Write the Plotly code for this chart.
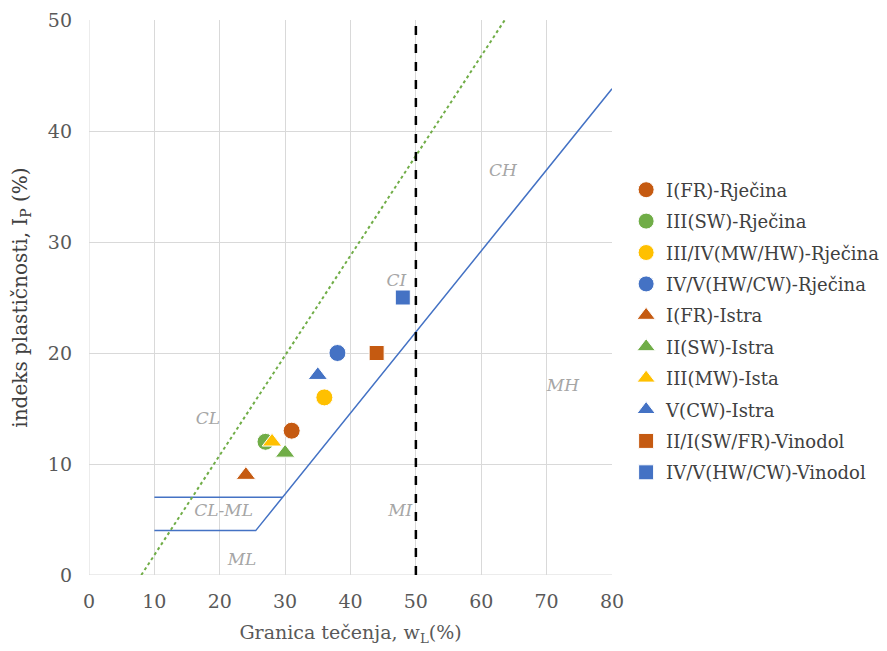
import plotly.graph_objects as go

names = ["I(FR)-Rječina", "III(SW)-Rječina", "III/IV(MW/HW)-Rječina", "IV/V(HW/CW)-Rječina",
         "I(FR)-Istra", "II(SW)-Istra", "III(MW)-Ista", "V(CW)-Istra",
         "II/I(SW/FR)-Vinodol", "IV/V(HW/CW)-Vinodol"]
wl = [31, 27, 36, 38, 24, 30, 28, 35, 44, 48]
ip = [13, 12, 16, 20, 9, 11, 12, 18, 20, 25]
symbols = ["circle"] * 4 + ["triangle-up"] * 4 + ["square"] * 2
colors = ["#C55A11", "#70AD47", "#FFC000", "#4472C4",
          "#C55A11", "#70AD47", "#FFC000", "#4472C4",
          "#C55A11", "#4472C4"]

# A-line with CL-ML zone boundaries
a_x = [10, 25.5, 80]
a_y = [4, 4, 43.8]
clml_x = [10, 29.6]
clml_y = [7, 7]
# U-line
u_x = [8, 63.6]
u_y = [0, 50]
# wL = 50 boundary
v_x = [50, 50]
v_y = [0, 50]

zone_labels = ["CL", "CL-ML", "ML", "MI", "CI", "CH", "MH"]
zone_x = [18.2, 20.6, 23.4, 47.6, 47, 63.3, 72.5]
zone_y = [14, 5.7, 1.3, 5.7, 26.4, 36.3, 17]

FONT = "DejaVu Serif"
fig = go.Figure()

fig.add_trace(go.Scatter(x=a_x, y=a_y, mode="lines", line=dict(color="#4472C4", width=1.5),
                         showlegend=False, hoverinfo="skip"))
fig.add_trace(go.Scatter(x=clml_x, y=clml_y, mode="lines", line=dict(color="#4472C4", width=1.5),
                         showlegend=False, hoverinfo="skip"))
fig.add_trace(go.Scatter(x=u_x, y=u_y, mode="lines", line=dict(color="#70AD47", width=2, dash="dot"),
                         showlegend=False, hoverinfo="skip"))
fig.add_trace(go.Scatter(x=v_x, y=v_y, mode="lines", line=dict(color="black", width=2.5, dash="dash"),
                         showlegend=False, hoverinfo="skip"))

for i, n in enumerate(names):
    fig.add_trace(go.Scatter(
        x=[wl[i]], y=[ip[i]], mode="markers", name=n, legendgroup=n,
        marker=dict(symbol=symbols[i], color=colors[i], size=17 if symbols[i] != "square" else 15,
                    line=dict(color="white", width=1))))

fig.add_trace(go.Scatter(x=zone_x, y=zone_y, mode="text", text=zone_labels,
                         textfont=dict(family=FONT, size=17, color="#A6A6A6", style="italic"),
                         showlegend=False, hoverinfo="skip"))

fig.update_layout(
    width=887, height=651,
    margin=dict(l=81, r=283, t=12, b=84, autoexpand=False),
    paper_bgcolor="white", plot_bgcolor="white",
    font=dict(family=FONT, color="#595959"),
    legend=dict(x=1.027, y=0.727, xanchor="left", yanchor="top",
                font=dict(family=FONT, size=18, color="#404040"),
                tracegroupgap=5, itemwidth=30),
)
fig.update_xaxes(range=[0, 80], tickvals=[0, 10, 20, 30, 40, 50, 60, 70, 80],
                 showgrid=True, gridcolor="#D9D9D9", zeroline=False, automargin=False,
                 showline=False, tickfont=dict(size=19, color="#595959"),
                 ticklabelstandoff=13,
                 title=dict(text="Granica tečenja, w<sub>L</sub>(%)", font=dict(size=19, color="#595959"),
                            standoff=14),
                 ticks="")
fig.update_yaxes(range=[0, 50], tickvals=[0, 10, 20, 30, 40, 50],
                 showgrid=True, gridcolor="#D9D9D9", zeroline=False, automargin=False,
                 showline=False, tickfont=dict(size=19, color="#595959"),
                 ticklabelstandoff=16,
                 title=dict(text="indeks plastičnosti, I<sub>P</sub> (%)", font=dict(size=20, color="#404040"),
                            standoff=17),
                 ticks="")
fig.add_shape(type="line", xref="x", yref="y", x0=0, x1=0, y0=0, y1=50, line=dict(color="#D9D9D9", width=1), layer="below")
fig.add_shape(type="line", xref="x", yref="y", x0=0, x1=80, y0=0, y1=0, line=dict(color="#D9D9D9", width=1), layer="below")

fig.write_html("out.html")
